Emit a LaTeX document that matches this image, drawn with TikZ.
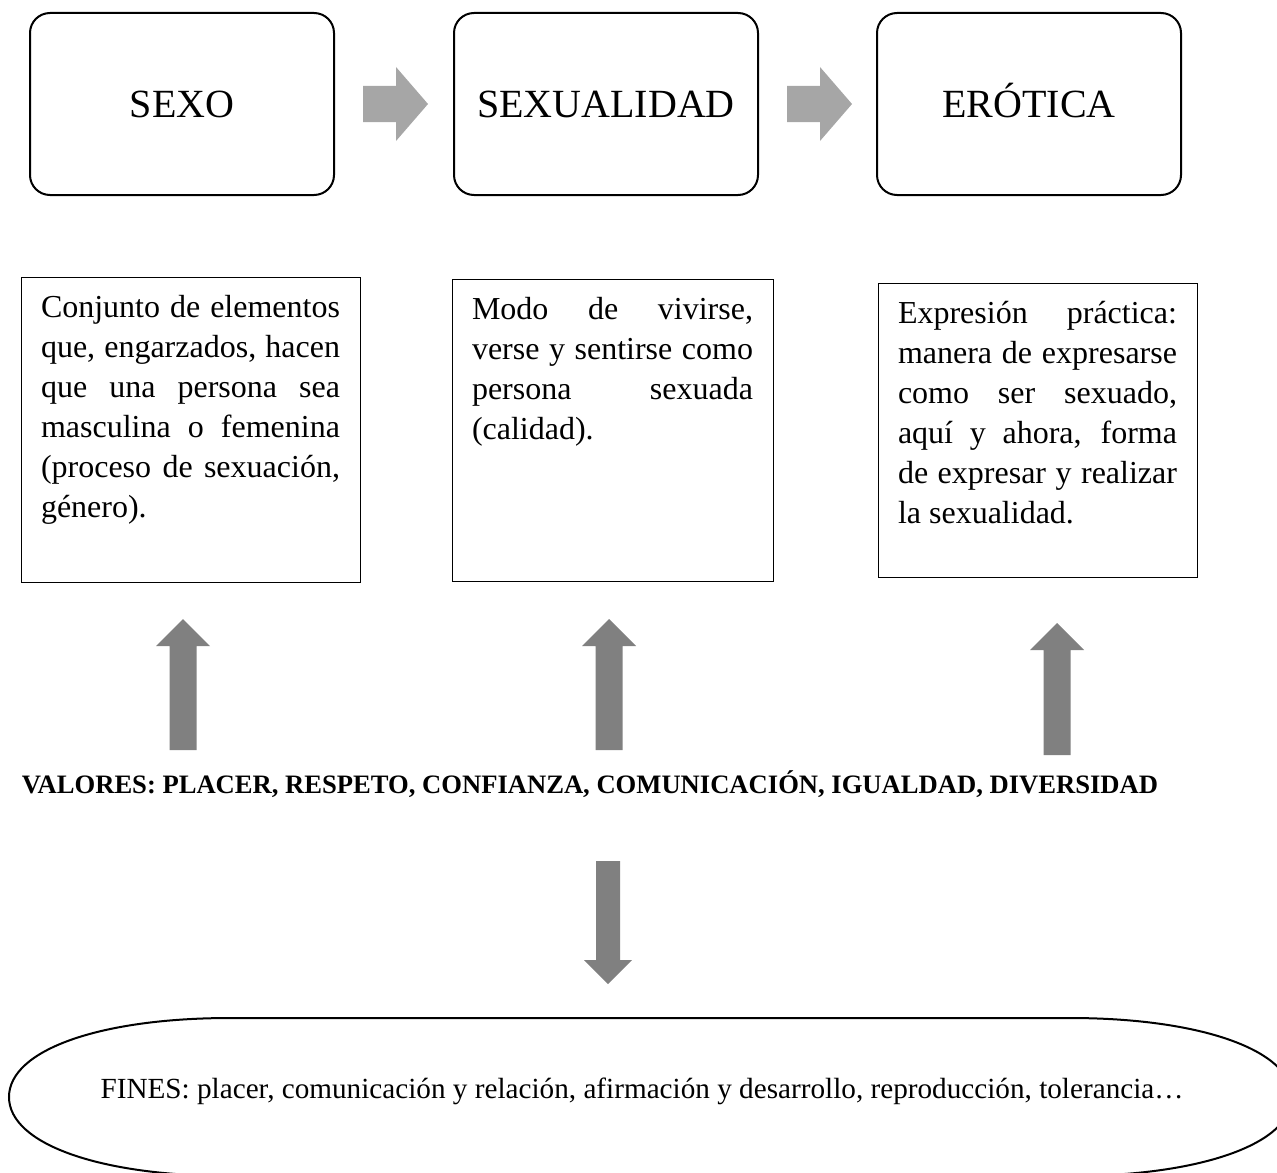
\documentclass[tikz,border=0pt]{standalone}
\usepackage{fontspec}
\setmainfont{Liberation Serif}
\usepackage{xcolor}
\usepackage{tikz}
\usetikzlibrary{calc}
\definecolor{arrlight}{HTML}{A6A6A6}
\definecolor{arrdark}{HTML}{808080}
% block arrows, all sizes in px of the page
\def\rblock#1#2{% tail x, centre y
	\fill[arrlight] (#1,#2-18)--++(33,0)--++(0,-19)--++(32,37)--++(-32,37)--++(0,-19)--++(-33,0)--cycle;}
\def\ublock#1#2#3{% centre x, tip y, foot y
	\fill[arrdark] (#1-13.5,#3)--(#1-13.5,#2+27)--(#1-27,#2+27)--(#1,#2)--(#1+27,#2+27)--(#1+13.5,#2+27)--(#1+13.5,#3)--cycle;}
\def\dblock#1#2#3{% centre x, top y, tip y
	\fill[arrdark] (#1-12,#2)--(#1-12,#3-24)--(#1-24,#3-24)--(#1,#3)--(#1+24,#3-24)--(#1+12,#3-24)--(#1+12,#2)--cycle;}
\newcommand{\deftext}[3]{\parbox[t][#2][t]{#1}{\hyphenpenalty=10000\exhyphenpenalty=10000\tolerance=9999\strut #3}}

\begin{document}
\begin{tikzpicture}[x=0.5pt,y=-0.5pt,
	titlebox/.style={draw,line width=1pt,rounded corners=10pt,minimum width=152pt,minimum height=91pt,
		inner sep=0pt,text height=13.24pt,text depth=0pt,font=\fontsize{20}{24}\selectfont},
	defbox/.style={draw,line width=0.5pt,inner xsep=10pt,inner ysep=6pt,font=\fontsize{16}{20}\selectfont}]
	\useasboundingbox (0,0) rectangle (1277,1172);
	% titles
	\node[titlebox] (sexo) at (182,104) {SEXO};
	\node[titlebox] (sexualidad) at (606,104) {SEXUALIDAD};
	\node[titlebox] (erotica) at (1029,104) {ERÓTICA};
	\rblock{363}{104}
	\rblock{787}{104}
	% definitions
	\node[defbox] (defsexo) at (190.5,429.5) {\deftext{149.5pt}{140.5pt}{Conjunto de elementos\linebreak
		que, engarzados, hacen\linebreak que una persona sea\linebreak masculina o femenina\linebreak
		(proceso de sexuación,\linebreak género).}};
	\node[defbox] (defsexualidad) at (612.5,430) {\deftext{140.5pt}{139pt}{Modo de vivirse,\linebreak
		verse y sentirse como\linebreak persona sexuada\linebreak (calidad).}};
	\node[defbox] (deferotica) at (1037.5,430) {\deftext{139.5pt}{135pt}{Expresión práctica:\linebreak
		manera de expresarse\linebreak como ser sexuado,\linebreak aquí y ahora, forma\linebreak
		de expresar y realizar\linebreak la sexualidad.}};
	\ublock{183}{619}{750}
	\ublock{609}{619}{750}
	\ublock{1057}{623}{755}
	% values and ends
	\node[anchor=base,font=\bfseries\fontsize{13.3}{16}\selectfont] (valores) at (590,793)
		{VALORES: PLACER, RESPETO, CONFIANZA, COMUNICACIÓN, IGUALDAD, DIVERSIDAD};
	\dblock{608}{861}{984}
	\draw[line width=1pt] (9,1097) .. controls (9,1050) and (100,1018) .. (230,1018) -- (1070,1018)
		.. controls (1200,1018) and (1292,1050) .. (1292,1097) .. controls (1292,1144) and (1200,1176) .. (1070,1176)
		-- (230,1176) .. controls (100,1176) and (9,1144) .. (9,1097) -- cycle;
	\node[anchor=base,font=\fontsize{14.6}{18}\selectfont] (fines) at (642,1098)
		{FINES: placer, comunicación y relación, afirmación y desarrollo, reproducción, tolerancia…};
\end{tikzpicture}
\end{document}
